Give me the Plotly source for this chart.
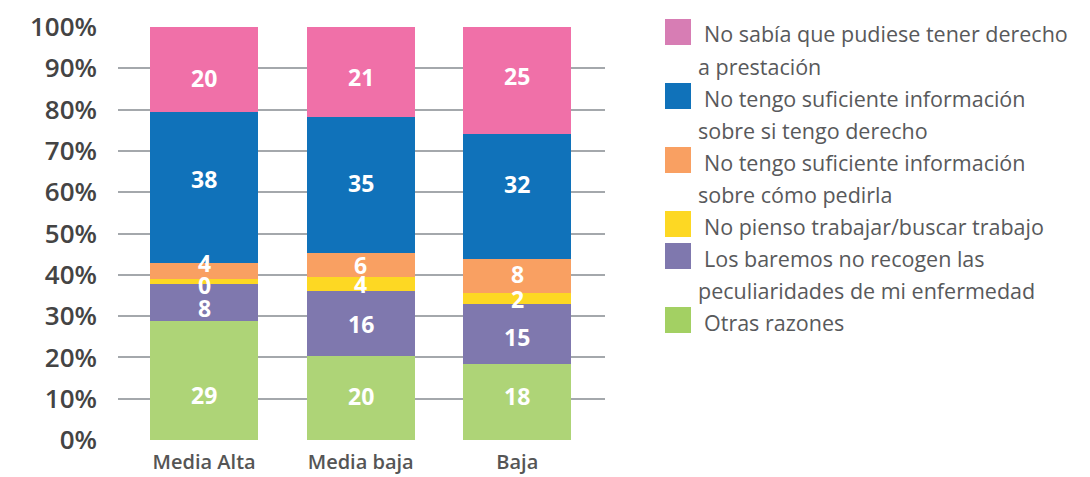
import plotly.graph_objects as go

# ---------------- data ----------------
categories = ["Media Alta", "Media baja", "Baja"]

series_names = [
    "Otras razones",
    "Los baremos no recogen las<br>peculiaridades de mi enfermedad",
    "No pienso trabajar/buscar trabajo",
    "No tengo suficiente información<br>sobre cómo pedirla",
    "No tengo suficiente información<br>sobre si tengo derecho",
    "No sabía que pudiese tener derecho<br>a prestación",
]
# bar heights (percent), bottom -> top
otras = [28.8, 20.3, 18.4]
baremos = [9.0, 15.8, 14.5]
no_pienso = [1.1, 3.4, 2.7]
como_pedirla = [3.9, 5.8, 8.2]
si_derecho = [36.6, 32.9, 30.3]
no_sabia = [20.5, 21.8, 25.9]
series_values = [otras, baremos, no_pienso, como_pedirla, si_derecho, no_sabia]

# printed labels
lab_otras = [29, 20, 18]
lab_baremos = [8, 16, 15]
lab_no_pienso = [0, 4, 2]
lab_como = [4, 6, 8]
lab_si = [38, 35, 32]
lab_no_sabia = [20, 21, 25]
series_labels = [lab_otras, lab_baremos, lab_no_pienso, lab_como, lab_si, lab_no_sabia]

y_ticks = [0, 10, 20, 30, 40, 50, 60, 70, 80, 90, 100]

# ---------------- style ----------------
bar_colors = ["#AED477", "#7F78AE", "#FDD823", "#F9A062", "#1072BA", "#F070A8"]
legend_colors = ["#A3D063", "#7F78AE", "#FDD823", "#F9A062", "#1072BA", "#D77DB4"]
FONT = "Open Sans"

# label nudges in px (styling only, positive = up)
nudges = [
    [-14, 2, 6],
    [-6, 0, -3],
    [-3, 0, 0],
    [8, 0, 2],
    [9, 2, 13],
    [-8, -5, 4],
]

W, H = 1090, 477
ML, MR, MT, MB = 118, 485, 27, 37
PW, PH = W - ML - MR, H - MT - MB


def px_x(px):
    return (px - ML) / PW


def px_y(py):
    return (H - MB - py) / PH


fig = go.Figure()
for name, vals, col in zip(series_names, series_values, bar_colors):
    fig.add_trace(go.Bar(
        x=categories, y=vals, name=name.replace("<br>", " "),
        marker=dict(color=col, line=dict(width=0)),
        width=0.69, showlegend=False, hoverinfo="x+y+name",
    ))

annotations = []
# data labels at segment centres
for ci, cat in enumerate(categories):
    base = 0.0
    for si, vals in enumerate(series_values):
        v = vals[ci]
        annotations.append(dict(
            x=cat, y=base + v / 2, xref="x", yref="y",
            text=str(series_labels[si][ci]), showarrow=False,
            yshift=nudges[si][ci],
            font=dict(family=FONT, size=23, color="white", weight=700),
        ))
        base += v

# custom legend (top to bottom)
shapes = []
line_idx = 0
LINE0, LSTEP = 34, 32
for k in range(len(series_names) - 1, -1, -1):
    lines = series_names[k].split("<br>")
    cy = LINE0 + LSTEP * line_idx - 2
    shapes.append(dict(
        type="rect", xref="paper", yref="paper",
        x0=px_x(665), x1=px_x(691), y0=px_y(cy + 13), y1=px_y(cy - 13),
        fillcolor=legend_colors[k], line=dict(width=0),
    ))
    for j, ln in enumerate(lines):
        ty = LINE0 + LSTEP * line_idx
        annotations.append(dict(
            x=px_x(702 if j == 0 else 696), y=px_y(ty), xref="paper", yref="paper",
            xanchor="left", yanchor="middle", text=ln, showarrow=False,
            font=dict(family=FONT, size=21.5, color="#58595B"),
        ))
        line_idx += 1

fig.update_layout(
    template="none",
    width=W, height=H,
    margin=dict(l=ML, r=MR, t=MT, b=MB, pad=0, autoexpand=False),
    barmode="stack",
    paper_bgcolor="white", plot_bgcolor="white",
    showlegend=False,
    annotations=annotations, shapes=shapes,
    font=dict(family=FONT),
)
fig.update_xaxes(
    type="category", range=[-0.55, 2.56], automargin=False,
    showgrid=False, showline=False, zeroline=False, ticks="",
    tickfont=dict(family=FONT, size=20, color="#555555", weight=600),
    ticklabelstandoff=8,
)
fig.update_yaxes(
    range=[0, 100], tickvals=y_ticks, ticktext=[f"{t}%" for t in y_ticks],
    automargin=False,
    showgrid=True, gridcolor="#A4A8AC", gridwidth=1.6,
    zeroline=False, showline=False, ticks="",
    tickfont=dict(family=FONT, size=26, color="#444444", weight=600),
    ticklabelstandoff=20,
)

fig.write_html(
    "out.html",
    config={"displayModeBar": False},
    post_script="document.body.style.margin='0';document.body.style.overflow='hidden';",
)
